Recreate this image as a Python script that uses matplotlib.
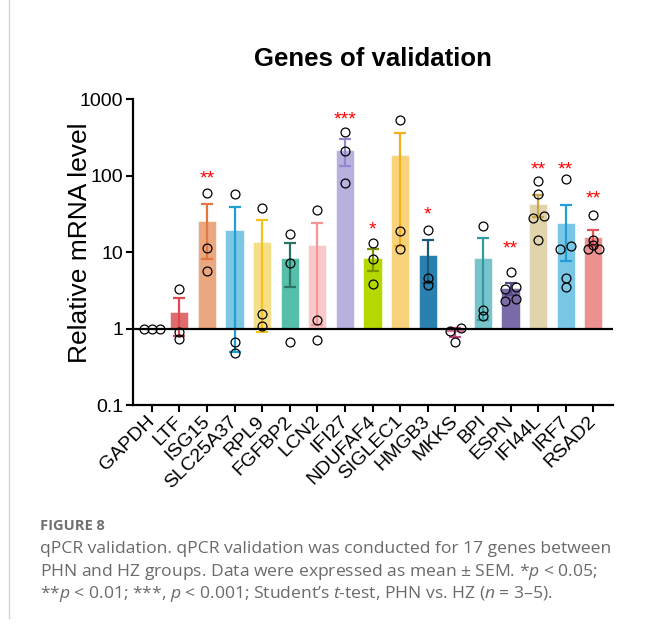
import numpy as np
import matplotlib

matplotlib.use("Agg")
import matplotlib.pyplot as plt
from matplotlib.lines import Line2D

plt.rcParams['font.family'] = ['Liberation Sans', 'DejaVu Sans']
plt.rcParams['mathtext.fontset'] = 'custom'
plt.rcParams['mathtext.rm'] = 'Open Sans'
plt.rcParams['mathtext.it'] = 'Open Sans:italic'

# data
genes = ['GAPDH', 'LTF', 'ISG15', 'SLC25A37', 'RPL9', 'FGFBP2', 'LCN2', 'IFI27', 'NDUFAF4',
         'SIGLEC1', 'HMGB3', 'MKKS', 'BPI', 'ESPN', 'IFI44L', 'IRF7', 'RSAD2']
means = [1.0, 1.65, 25.4, 19.5, 13.5, 8.4, 12.6, 220, 8.3, 187, 9.3, 0.89, 8.4, 3.35, 42.8, 24.4, 15.8]
sems = [0, 0.85, 17.2, 19.0, 12.6, 4.9, 11.5, 86, 2.65, 175, 5.3, 0.12, 7.1, 0.6, 14.0, 16.7, 3.9]
points = [
    [1, 1, 1],
    [3.3, 0.89, 0.74],
    [59.6, 11.5, 5.6],
    [57.8, 0.66, 0.48],
    [37.9, 1.55, 1.08],
    [17.5, 7.3, 0.66],
    [35.7, 1.30, 0.70],
    [374, 209, 80],
    [13.1, 8.1, 3.8],
    [537, 19.2, 11.1],
    [19.8, 4.55, 3.7],
    [1.02, 0.93, 0.66],
    [22.3, 1.74, 1.45],
    [5.5, 3.47, 3.27, 2.44, 2.30],
    [85.5, 58.5, 30.1, 28.4, 14.6],
    [91.9, 11.9, 11.0, 4.55, 3.5],
    [30.4, 14.6, 12.6, 10.9, 11.0],
]
stars = ['', '', '**', '', '', '', '', '***', '*', '', '*', '', '', '**', '**', '**', '**']
star_y = [None, None, 112, None, None, None, None, 660, 24, None, 38, None, None, 13.3, 146, 146, 61]

bar_colors = ['#bbbbbb', '#e06c6e', '#eba77f', '#7cc7e3', '#f6de88', '#56bfaa', '#fac8c8', '#b8b0dd',
              '#b4d800', '#f8d37c', '#2a80ae', '#d3789e', '#78c4ca', '#7b6ba8', '#e1d4ac', '#7ac6e5',
              '#ec9090']
err_colors = ['#888888', '#e0484f', '#e2773f', '#1fa0d3', '#f2c21e', '#2b7565', '#f59595', '#9387cf',
              '#7c9600', '#f3b01e', '#1b587a', '#c24b7e', '#2f9aa2', '#574a88', '#c8a550', '#239dd6',
              '#e1545a']

fig = plt.figure(figsize=(6.48, 6.27), dpi=100)
ax = fig.add_axes([0.2048, 0.354, 0.7407, 0.4876])
ax.set_yscale('log')
ax.set_ylim(0.1, 1000)
ax.set_xlim(-0.69, 16.7)

x = np.arange(len(genes))
heights = [m - 1 for m in means]
ax.bar(x, heights, bottom=1, width=0.66, color=bar_colors, edgecolor='white', linewidth=0.4, zorder=2)

for i in range(len(genes)):
    if sems[i] > 0:
        ax.errorbar(x[i], means[i], yerr=sems[i], fmt='none', ecolor=err_colors[i],
                    elinewidth=1.6, capsize=4.6, capthick=1.6, zorder=3)

ax.axhline(1, color='black', lw=1.6, zorder=4)

# simple swarm: spread points that sit on (almost) the same height
fig.canvas.draw()
px_per_unit = ax.transData.transform((1, 1))[0] - ax.transData.transform((0, 1))[0]
for i, vals in enumerate(points):
    ypx = [ax.transData.transform((0, v))[1] for v in vals]
    order = np.argsort(ypx)
    groups = []
    for j in order:
        if groups and ypx[j] - ypx[groups[-1][-1]] < 4:
            groups[-1].append(j)
        else:
            groups.append([j])
    xs = np.zeros(len(vals))
    for g in groups:
        step = 8 if len(g) > 2 else 11
        for k, j in enumerate(g):
            xs[j] = (k - (len(g) - 1) / 2) * step / px_per_unit
    ax.plot(x[i] + xs, vals, 'o', mfc='none', mec='black', ms=6.4, mew=0.9, zorder=5)

for i in range(len(genes)):
    if stars[i]:
        ax.annotate(stars[i], (x[i], star_y[i]), xytext=(0, -8), textcoords='offset points',
                    ha='center', va='baseline', color='red', fontsize=14)

for s in ['top', 'right']:
    ax.spines[s].set_visible(False)
for s in ['left', 'bottom']:
    ax.spines[s].set_linewidth(1.6)

ax.set_yticks([0.1, 1, 10, 100, 1000])
ax.set_yticklabels(['0.1', '1', '10', '100', '1000'])
ax.minorticks_off()
ax.set_xticks(x)
ax.set_xticklabels(genes, rotation=45, ha='right', va='center', rotation_mode='anchor')
ax.tick_params(axis='both', length=5, width=1.5, labelsize=14, pad=2)
ax.tick_params(axis='x', pad=5)

ax.set_title('Genes of validation', fontsize=18.5, fontweight='bold', pad=24)
ax.set_ylabel('Relative mRNA level', fontsize=19)
ax.yaxis.set_label_coords(-0.085, 0.532)

# caption block
fig.add_artist(Line2D([8.5 / 648, 8.5 / 648], [1 - 618 / 627, 1.0], color='#d2d2d2', lw=1))
cap_x = 40 / 648
fig.text(cap_x, 1 - 530 / 627, 'FIGURE 8', family='Open Sans', fontweight='bold', fontsize=10.5,
         color='#707070', va='baseline')
caption = [
    'qPCR validation. qPCR validation was conducted for 17 genes between',
    'PHN and HZ groups. Data were expressed as mean ± SEM. *$p$ < 0.05;',
    '**$p$ < 0.01; ***, $p$ < 0.001; Student’s $t$-test, PHN vs. HZ ($n$ = 3–5).',
]
for k, line in enumerate(caption):
    fig.text(cap_x, 1 - (553 + 22.7 * k) / 627, line, family='Open Sans', fontsize=12.6,
             color='#6a6a6a', va='baseline')

fig.savefig('out.png', dpi=100)
